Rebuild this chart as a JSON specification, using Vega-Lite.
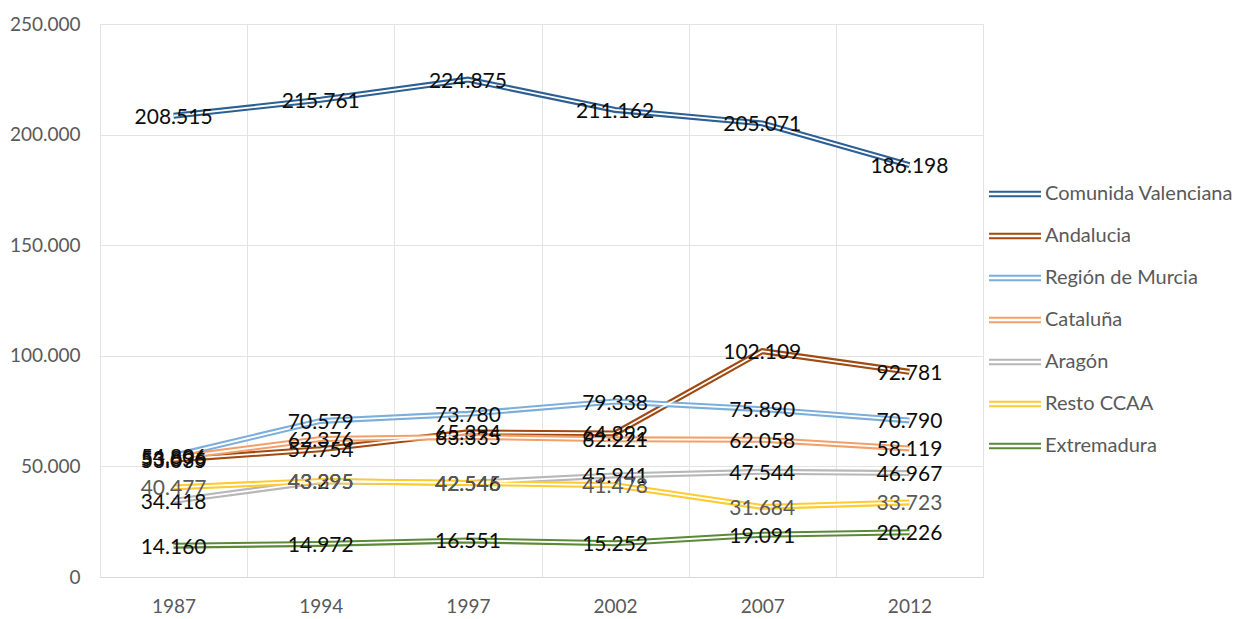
{
  "$schema": "https://vega.github.io/schema/vega-lite/v6.json",
  "autosize": "none",
  "width": 883,
  "height": 553,
  "padding": {"left": 100, "top": 24, "right": 250, "bottom": 42},
  "background": "white",
  "config": {
    "locale": {"number": {"decimal": ",", "thousands": ".", "grouping": [3], "currency": ["", " €"]}},
    "view": {"stroke": "#e3e3e3", "strokeWidth": 1},
    "font": "Lato"
  },
  "data": {"values": [
    {"series": "Comunida Valenciana", "year": "1987", "value": 208515},
    {"series": "Comunida Valenciana", "year": "1994", "value": 215761},
    {"series": "Comunida Valenciana", "year": "1997", "value": 224875},
    {"series": "Comunida Valenciana", "year": "2002", "value": 211162},
    {"series": "Comunida Valenciana", "year": "2007", "value": 205071},
    {"series": "Comunida Valenciana", "year": "2012", "value": 186198},
    {"series": "Andalucia", "year": "1987", "value": 53035},
    {"series": "Andalucia", "year": "1994", "value": 57754},
    {"series": "Andalucia", "year": "1997", "value": 65394},
    {"series": "Andalucia", "year": "2002", "value": 64892},
    {"series": "Andalucia", "year": "2007", "value": 102109},
    {"series": "Andalucia", "year": "2012", "value": 92781},
    {"series": "Región de Murcia", "year": "1987", "value": 54806},
    {"series": "Región de Murcia", "year": "1994", "value": 70579},
    {"series": "Región de Murcia", "year": "1997", "value": 73780},
    {"series": "Región de Murcia", "year": "2002", "value": 79338},
    {"series": "Región de Murcia", "year": "2007", "value": 75890},
    {"series": "Región de Murcia", "year": "2012", "value": 70790},
    {"series": "Cataluña", "year": "1987", "value": 53896},
    {"series": "Cataluña", "year": "1994", "value": 62376},
    {"series": "Cataluña", "year": "1997", "value": 63335},
    {"series": "Cataluña", "year": "2002", "value": 62221},
    {"series": "Cataluña", "year": "2007", "value": 62058},
    {"series": "Cataluña", "year": "2012", "value": 58119},
    {"series": "Aragón", "year": "1987", "value": 34418},
    {"series": "Aragón", "year": "1994", "value": 43295},
    {"series": "Aragón", "year": "1997", "value": 42546},
    {"series": "Aragón", "year": "2002", "value": 45941},
    {"series": "Aragón", "year": "2007", "value": 47544},
    {"series": "Aragón", "year": "2012", "value": 46967},
    {"series": "Resto CCAA", "year": "1987", "value": 40477},
    {"series": "Resto CCAA", "year": "1994", "value": 43395},
    {"series": "Resto CCAA", "year": "1997", "value": 42545},
    {"series": "Resto CCAA", "year": "2002", "value": 41478},
    {"series": "Resto CCAA", "year": "2007", "value": 31684},
    {"series": "Resto CCAA", "year": "2012", "value": 33723},
    {"series": "Extremadura", "year": "1987", "value": 14160},
    {"series": "Extremadura", "year": "1994", "value": 14972},
    {"series": "Extremadura", "year": "1997", "value": 16551},
    {"series": "Extremadura", "year": "2002", "value": 15252},
    {"series": "Extremadura", "year": "2007", "value": 19091},
    {"series": "Extremadura", "year": "2012", "value": 20226}
  ]},
  "encoding": {
    "x": {
      "field": "year", "type": "ordinal", "bandPosition": 0.5,
      "scale": {"type": "band", "paddingInner": 0, "paddingOuter": 0},
      "axis": {
        "title": null, "labelAngle": 0, "tickBand": "extent", "grid": true,
        "gridColor": "#e3e3e3", "ticks": false, "domain": true, "domainColor": "#d9d9d9",
        "labelFont": "Lato", "labelFontSize": 19, "labelColor": "#595959", "labelPadding": 20
      }
    },
    "y": {
      "field": "value", "type": "quantitative",
      "scale": {"domain": [0, 250000], "nice": false},
      "axis": {
        "title": null, "values": [0, 50000, 100000, 150000, 200000, 250000], "format": ",d",
        "grid": true, "gridColor": "#e3e3e3", "ticks": false, "domain": false,
        "labelFont": "Lato", "labelFontSize": 19, "labelColor": "#595959", "labelPadding": 20
      }
    }
  },
  "layer": [
    {
      "mark": {"type": "line", "strokeWidth": 6},
      "encoding": {
        "color": {
          "field": "series", "type": "nominal",
          "scale": {
            "domain": ["Comunida Valenciana", "Andalucia", "Región de Murcia", "Cataluña", "Aragón", "Resto CCAA", "Extremadura"],
            "range": ["#2C5F93", "#A04A12", "#7CAEDC", "#F2A06A", "#B7B7B7", "#FFCB30", "#5A8A38"]
          },
          "legend": {
            "title": null, "orient": "none", "legendX": 888, "legendY": 143,
            "symbolType": "M-1,-0.09H1M-1,0.09H1", "symbolSize": 2704, "symbolStrokeWidth": 2,
            "symbolFillColor": "transparent", "labelLimit": 0,
            "labelFont": "Lato", "labelFontSize": 20, "labelColor": "#595959", "labelOffset": 3,
            "rowPadding": 5
          }
        }
      }
    },
    {
      "mark": {"type": "line", "strokeWidth": 1.8, "color": "white"},
      "encoding": {"detail": {"field": "series"}}
    },
    {
      "mark": {"type": "text", "font": "Lato", "fontSize": 21, "align": "center", "baseline": "middle", "dy": 2},
      "encoding": {
        "text": {"field": "value", "type": "quantitative", "format": ",d"},
        "color": {"condition": {"test": "datum.series === 'Resto CCAA'", "value": "#595959"}, "value": "#0d0d0d"}
      }
    }
  ]
}
